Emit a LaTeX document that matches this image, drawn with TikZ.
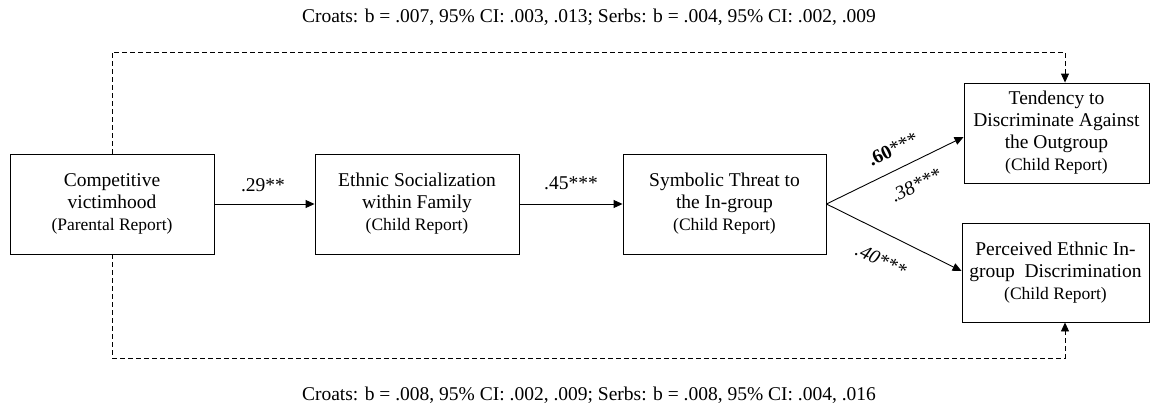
\documentclass[tikz,border=0pt]{standalone}
\usepackage{fontspec}
\setmainfont{Liberation Serif}
\usetikzlibrary{arrows.meta}
\newcommand{\subrep}[1]{{\fontsize{17.5}{20}\selectfont #1}}
\begin{document}
\begin{tikzpicture}[x=1pt,y=-1pt,
  box/.style={draw, line width=0.9pt, inner sep=0pt, align=center, font=\fontsize{19.5}{22}\selectfont},
  conn/.style={line width=0.9pt, -{Triangle[length=9pt,width=8pt]}},
  dconn/.style={line width=0.9pt, dash pattern=on 5pt off 3pt, -{Triangle[length=9pt,width=8pt]}},
  lab/.style={font=\fontsize{19.5}{22}\selectfont, inner sep=0pt},
  note/.style={font=\fontsize{19.5}{22}\selectfont, inner sep=0pt}]
\useasboundingbox (0,0) rectangle (1159,410);
\node[box, minimum width=204pt, minimum height=100pt] (cv) at (112,204) {Competitive\\victimhood\\\subrep{(Parental Report)}};
\node[box, minimum width=204pt, minimum height=100pt] (es) at (417,204) {Ethnic Socialization\\within Family\\\subrep{(Child Report)}};
\node[box, minimum width=203pt, minimum height=100pt] (st) at (724.5,204) {Symbolic Threat to\\the In-group\\\subrep{(Child Report)}};
\node[box, minimum width=185pt, minimum height=100pt] (td) at (1056.5,133) {Tendency to\\Discriminate Against\\the Outgroup\\\subrep{(Child Report)}};
\node[box, minimum width=187pt, minimum height=99pt] (pd) at (1055.5,272.5) {Perceived Ethnic In-\\group\ \ Discrimination\\\subrep{(Child Report)}};
\coordinate (tl) at (112,52);
\coordinate (tr) at (1065,52);
\coordinate (bl) at (112,358);
\coordinate (br) at (1065,358);
\draw[conn] (cv.east) -- (es.west);
\draw[conn] (es.east) -- (st.west);
\draw[conn] (st.east) -- (td.west |- 0,137);
\draw[conn] (st.east) -- (pd.west |- 0,271);
\draw[dconn] (cv.north) -- (tl) -- (tr) -- (td.north -| tr);
\draw[dconn] (cv.south) -- (bl) -- (br) -- (pd.south -| br);
\node[lab] (l29) at (263,185) {.29**};
\node[lab] (l45) at (571,183) {.45***};
\node[lab, rotate=26.4] (l60) at (893,149) {\textbf{.60}***};
\node[lab, rotate=26.4] (l38) at (916,185) {\textit{.38***}};
\node[lab, rotate=-25.9] (l40) at (881,260) {\textit{.40***}};
\node[note] (topn) at (589,17) {Croats: b = .007, 95\% CI: .003, .013; Serbs: b = .004, 95\% CI: .002, .009};
\node[note] (botn) at (589,395) {Croats: b = .008, 95\% CI: .002, .009; Serbs: b = .008, 95\% CI: .004, .016};
\end{tikzpicture}
\end{document}
